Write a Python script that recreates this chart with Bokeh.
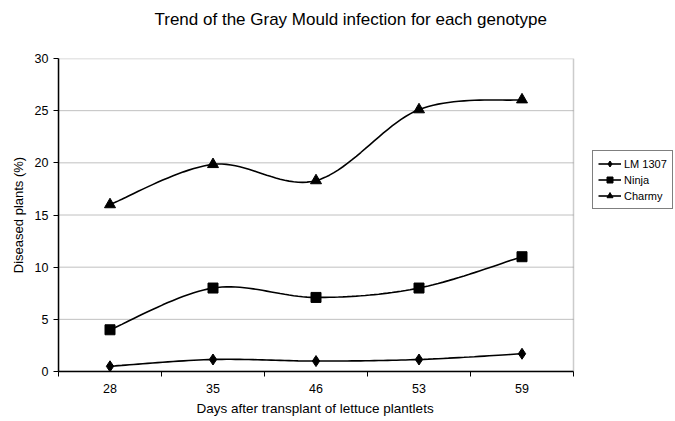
import numpy as np
from bokeh.plotting import figure
from bokeh.models import (FixedTicker, Legend, LegendItem, Title, Range1d, BoxAnnotation)
from bokeh.embed import file_html
from bokeh.resources import INLINE

days = ["28", "35", "46", "53", "59"]
lm1307 = [0.5, 1.15, 1.0, 1.15, 1.7]
ninja = [4.0, 8.0, 7.1, 8.0, 11.0]
charmy = [16.0, 19.85, 18.3, 25.1, 26.05]
series_names = ["LM 1307", "Ninja", "Charmy"]
y_ticks = [0, 5, 10, 15, 20, 25, 30]

FONT = "Liberation Sans"

W, H = 675, 421
LEFT, TOP, BOTTOM, RIGHT = 58, 58, 50, 1
PLOT_W = 515  # width of the plotting area (legend sits to its right)
FRAME_W = W - LEFT - RIGHT
NCAT = len(days)
X_END = NCAT * FRAME_W / PLOT_W

xs = np.arange(NCAT) + 0.5


def smooth(x, y, n=24):
    """Excel-style smoothed line: cubic Bezier with Catmull-Rom control points."""
    x = np.asarray(x, float)
    y = np.asarray(y, float)
    P = np.column_stack([x, y])
    m = len(P)
    out = []
    for i in range(m - 1):
        p0 = P[i - 1] if i > 0 else P[i]
        p1 = P[i]
        p2 = P[i + 1]
        p3 = P[i + 2] if i + 2 < m else P[i + 1]
        c1 = p1 + (p2 - p0) / 6.0
        c2 = p2 - (p3 - p1) / 6.0
        t = np.linspace(0, 1, n)[:, None]
        b = ((1 - t) ** 3) * p1 + 3 * ((1 - t) ** 2) * t * c1 + 3 * (1 - t) * t ** 2 * c2 + t ** 3 * p2
        if i > 0:
            b = b[1:]
        out.append(b)
    B = np.vstack(out)
    return B[:, 0], B[:, 1]


p = figure(width=W, height=H, output_backend="svg", toolbar_location=None,
           x_range=Range1d(0, X_END), y_range=Range1d(y_ticks[0], y_ticks[-1]),
           min_border_left=LEFT, min_border_right=RIGHT, min_border_top=TOP, min_border_bottom=BOTTOM)

p.background_fill_color = "white"
p.border_fill_color = "white"
p.outline_line_color = None

# title
p.title = Title(text="Trend of the Gray Mould infection for each genotype", align="left", offset=96,
                standoff=4, padding=dict(left=0, right=0, top=0, bottom=28),
                text_font=FONT, text_font_size="17px", text_font_style="normal",
                text_color="#000000")

# x-axis title, placed under the plotting area (not the legend)
p.add_layout(Title(text="Days after transplant of lettuce plantlets", align="left", offset=138,
                   standoff=7, text_font=FONT, text_font_size="13.5px", text_font_style="normal",
                   text_color="#000000"), "below")

# gridlines (only across the plotting area)
p.xgrid.grid_line_color = None
p.ygrid.grid_line_color = None
p.segment(x0=0, x1=NCAT, y0=y_ticks[1:-1], y1=y_ticks[1:-1], line_color="#c0c0c0", line_width=1,
          level="underlay")
p.add_layout(BoxAnnotation(left=0, right=NCAT, bottom=y_ticks[0], top=y_ticks[-1],
                           fill_alpha=0, line_color="#555555", line_width=1.5, level="underlay"))

# axes
xa = p.xaxis[0]
xa.bounds = (0, NCAT)
xa.ticker = FixedTicker(ticks=list(xs), minor_ticks=list(np.arange(NCAT + 1)))
xa.major_label_overrides = {float(v): d for v, d in zip(xs, days)}
xa.major_tick_line_color = None
xa.major_tick_out = 5
xa.major_tick_in = 0
xa.minor_tick_line_color = "black"
xa.minor_tick_out = 5
xa.minor_tick_in = 0
xa.axis_line_color = "black"
xa.axis_line_width = 1.5
xa.major_label_standoff = 7
xa.major_label_text_font = FONT
xa.major_label_text_font_size = "12.5px"
xa.major_label_text_color = "black"

ya = p.yaxis[0]
ya.ticker = FixedTicker(ticks=y_ticks)
ya.major_tick_out = 5
ya.major_tick_in = 0
ya.minor_tick_line_color = None
ya.axis_line_color = "black"
ya.axis_line_width = 1.5
ya.major_tick_line_color = "black"
ya.major_label_standoff = 5
ya.major_label_text_font = FONT
ya.major_label_text_font_size = "12.5px"
ya.major_label_text_color = "black"
ya.axis_label = "Diseased plants (%)"
ya.axis_label_text_font = FONT
ya.axis_label_text_font_size = "13px"
ya.axis_label_text_font_style = "normal"
ya.axis_label_text_color = "black"
ya.axis_label_standoff = 6

markers = ["diamond", "square", "triangle"]
sizes = [11, 10, 11]
items = []
for name, vals, mk, sz in zip(series_names, [lm1307, ninja, charmy], markers, sizes):
    sx, sy = smooth(xs, vals)
    r1 = p.line(sx, sy, line_color="black", line_width=1.6)
    r2 = p.scatter(xs, vals, marker=mk, size=sz, fill_color="black", line_color="black")
    items.append(LegendItem(label=name, renderers=[r1, r2]))

legend = Legend(items=items, location=(534, 162), orientation="vertical",
                label_text_font=FONT, label_text_font_size="11px", label_text_color="black",
                border_line_color="black", border_line_width=1,
                background_fill_color="white", background_fill_alpha=1,
                padding=5, spacing=1, margin=0,
                label_height=15, glyph_height=15, glyph_width=23, label_standoff=3)
p.add_layout(legend, "center")

open("out.html", "w").write(file_html(p, INLINE))
